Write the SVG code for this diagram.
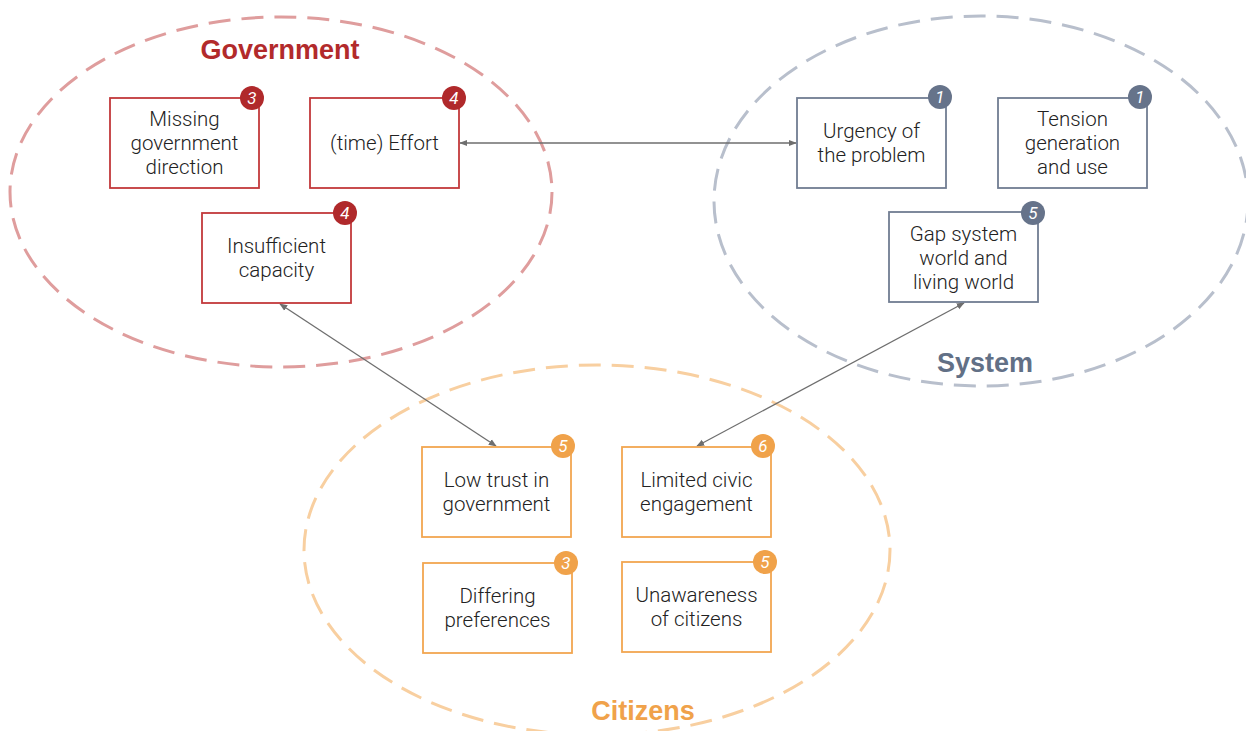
<svg xmlns="http://www.w3.org/2000/svg" width="1246" height="731" viewBox="0 0 1246 731">
  <style>
    .zone { fill: none; stroke-width: 3; stroke-dasharray: 22 11; }
    .title { font-family: "Liberation Sans", Arial, sans-serif; font-weight: 700; font-size: 27px; text-anchor: middle; }
    .box { fill: #ffffff; stroke-width: 1.8; }
    .lbl { font-family: Roboto, "Liberation Sans", sans-serif; font-weight: 300; font-size: 20.5px; fill: #222222; text-anchor: middle; }
    .badge-t { font-family: Roboto, "Liberation Sans", sans-serif; font-style: italic; font-weight: 400; font-size: 17px; fill: #ffffff; text-anchor: middle; }
    .gov .box { stroke: #c2393b; }
    .gov circle { fill: #b0292b; }
    .sys .box { stroke: #717d92; }
    .sys circle { fill: #66738a; }
    .cit .box { stroke: #f2a650; }
    .cit circle { fill: #f0a24a; }
    .link { stroke: #6e6e6e; stroke-width: 1.3; fill: none; marker-start: url(#head); marker-end: url(#head); }
  </style>
  <defs>
    <marker id="head" viewBox="0 0 10 10" refX="9" refY="5" markerWidth="8" markerHeight="8" markerUnits="userSpaceOnUse" orient="auto-start-reverse">
      <path d="M0,1 L10,5 L0,9 z" fill="#6e6e6e"/>
    </marker>
  </defs>

  <rect width="1246" height="731" fill="#ffffff"/>

  <!-- Group outlines -->
  <g id="zones">
    <ellipse class="zone" cx="281" cy="192" rx="271" ry="175" stroke="#df9d9d"/>
    <ellipse class="zone" cx="981" cy="201" rx="267" ry="185" stroke="#b8bfcc"/>
    <ellipse class="zone" cx="597" cy="550" rx="293" ry="185" stroke="#f8cfa0"/>
    <text class="title" x="280" y="59" fill="#b22a2b">Government</text>
    <text class="title" x="985" y="372" fill="#627086">System</text>
    <text class="title" x="643" y="720" fill="#f0a24a">Citizens</text>
  </g>

  <!-- Connectors -->
  <g id="connectors">
    <line class="link" x1="460" y1="143" x2="796" y2="143"/>
    <line class="link" x1="280" y1="304" x2="496" y2="446"/>
    <line class="link" x1="964" y1="303" x2="697" y2="446"/>
  </g>

  <!-- Government -->
  <g id="missing-direction" class="gov">
    <rect class="box" x="110" y="98" width="149" height="90"/>
    <text class="lbl" x="184.5" y="126">Missing</text>
    <text class="lbl" x="184.5" y="150">government</text>
    <text class="lbl" x="184.5" y="174">direction</text>
    <circle cx="252" cy="98" r="12"/>
    <text class="badge-t" x="252" y="104">3</text>
  </g>
  <g id="time-effort" class="gov">
    <rect class="box" x="310" y="98" width="149" height="90"/>
    <text class="lbl" x="384.5" y="150">(time) Effort</text>
    <circle cx="454" cy="98" r="12"/>
    <text class="badge-t" x="454" y="104">4</text>
  </g>
  <g id="insufficient-capacity" class="gov">
    <rect class="box" x="202" y="213" width="149" height="90"/>
    <text class="lbl" x="276.5" y="253">Insufficient</text>
    <text class="lbl" x="276.5" y="277">capacity</text>
    <circle cx="345" cy="213" r="12"/>
    <text class="badge-t" x="345" y="219">4</text>
  </g>

  <!-- System -->
  <g id="urgency" class="sys">
    <rect class="box" x="797" y="98" width="149" height="90"/>
    <text class="lbl" x="871.5" y="138">Urgency of</text>
    <text class="lbl" x="871.5" y="162">the problem</text>
    <circle cx="940" cy="97" r="12"/>
    <text class="badge-t" x="940" y="103">1</text>
  </g>
  <g id="tension" class="sys">
    <rect class="box" x="998" y="98" width="149" height="90"/>
    <text class="lbl" x="1072.5" y="126">Tension</text>
    <text class="lbl" x="1072.5" y="150">generation</text>
    <text class="lbl" x="1072.5" y="174">and use</text>
    <circle cx="1140" cy="97" r="12"/>
    <text class="badge-t" x="1140" y="103">1</text>
  </g>
  <g id="gap-worlds" class="sys">
    <rect class="box" x="889" y="212" width="149" height="90"/>
    <text class="lbl" x="963.5" y="241">Gap system</text>
    <text class="lbl" x="963.5" y="265">world and</text>
    <text class="lbl" x="963.5" y="289">living world</text>
    <circle cx="1033" cy="213" r="12"/>
    <text class="badge-t" x="1033" y="219">5</text>
  </g>

  <!-- Citizens -->
  <g id="low-trust" class="cit">
    <rect class="box" x="422" y="447" width="149" height="90"/>
    <text class="lbl" x="496.5" y="487">Low trust in</text>
    <text class="lbl" x="496.5" y="511">government</text>
    <circle cx="563" cy="446" r="12"/>
    <text class="badge-t" x="563" y="452">5</text>
  </g>
  <g id="civic-engagement" class="cit">
    <rect class="box" x="622" y="447" width="149" height="90"/>
    <text class="lbl" x="696.5" y="487">Limited civic</text>
    <text class="lbl" x="696.5" y="511">engagement</text>
    <circle cx="763" cy="446" r="12"/>
    <text class="badge-t" x="763" y="452">6</text>
  </g>
  <g id="differing-preferences" class="cit">
    <rect class="box" x="423" y="563" width="149" height="90"/>
    <text class="lbl" x="497.5" y="603">Differing</text>
    <text class="lbl" x="497.5" y="627">preferences</text>
    <circle cx="566" cy="563" r="12"/>
    <text class="badge-t" x="566" y="569">3</text>
  </g>
  <g id="unawareness" class="cit">
    <rect class="box" x="622" y="562" width="149" height="90"/>
    <text class="lbl" x="696.5" y="602">Unawareness</text>
    <text class="lbl" x="696.5" y="626">of citizens</text>
    <circle cx="765" cy="562" r="12"/>
    <text class="badge-t" x="765" y="568">5</text>
  </g>
</svg>
